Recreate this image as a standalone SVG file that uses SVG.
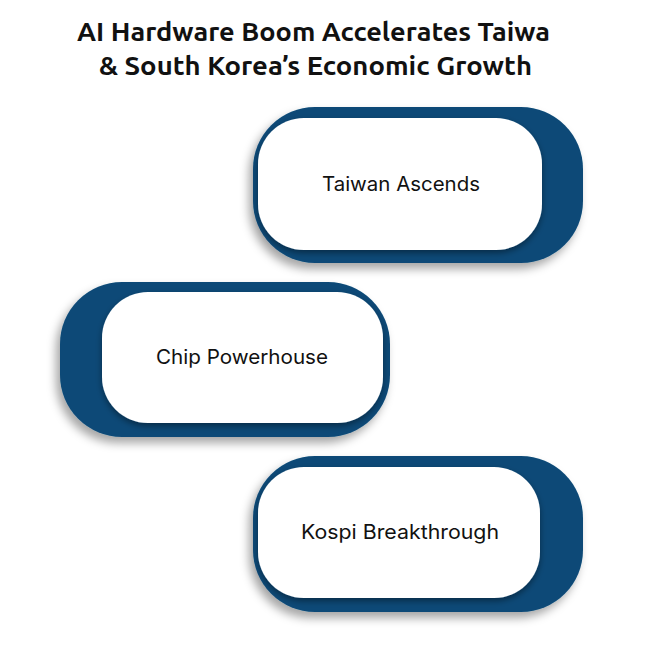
<svg xmlns="http://www.w3.org/2000/svg" width="657" height="645" viewBox="0 0 657 645">
<style>
.title{font-family:"Ubuntu","Liberation Sans","DejaVu Sans",sans-serif;font-weight:700;font-size:25px;fill:#111;}
.outer{fill:#0a4a77;filter:url(#sh1);}
.inner{fill:#ffffff;filter:url(#sh2);}
.lbl{font-family:Inter,"Liberation Sans",sans-serif;font-size:20px;fill:#111;text-anchor:middle;}
</style>
<defs>
<filter id="sh1" x="-20%" y="-20%" width="140%" height="150%">
<feDropShadow dx="-4" dy="6" stdDeviation="5" flood-color="#000" flood-opacity="0.35"/>
</filter>
<filter id="sh2" x="-20%" y="-20%" width="140%" height="150%">
<feDropShadow dx="0" dy="3" stdDeviation="3" flood-color="#000" flood-opacity="0.4"/>
</filter>
</defs>
<rect width="657" height="645" fill="#ffffff"/>
<g id="title">
<text class="title" x="313.5" y="41" text-anchor="middle" textLength="473" lengthAdjust="spacingAndGlyphs">AI Hardware Boom Accelerates Taiwa</text>
<text class="title" x="315.5" y="75" text-anchor="middle" textLength="433" lengthAdjust="spacingAndGlyphs">&amp; South Korea’s Economic Growth</text>
</g>
<g id="connectors"></g>
<g id="node-taiwan">
<rect class="outer" x="253" y="107" width="330" height="156" rx="62"/>
<rect class="inner" x="258" y="118" width="284" height="132" rx="46"/>
<text class="lbl" x="401" y="191" textLength="158" lengthAdjust="spacingAndGlyphs">Taiwan Ascends</text>
</g>
<g id="node-chip">
<rect class="outer" x="60" y="282" width="330" height="155" rx="62"/>
<rect class="inner" x="102" y="292" width="281" height="131" rx="46"/>
<text class="lbl" x="242" y="364" textLength="172" lengthAdjust="spacingAndGlyphs">Chip Powerhouse</text>
</g>
<g id="node-kospi">
<rect class="outer" x="253" y="456" width="330" height="156" rx="62"/>
<rect class="inner" x="258" y="467" width="282" height="131" rx="46"/>
<text class="lbl" x="400" y="539" textLength="198" lengthAdjust="spacingAndGlyphs">Kospi Breakthrough</text>
</g>
</svg>
